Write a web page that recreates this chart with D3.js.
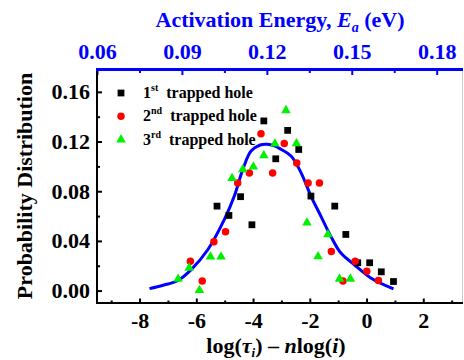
<html>
<head>
<script src="https://d3js.org/d3.v7.min.js"></script>
<style>
  * { margin: 0; padding: 0; }
  body { background: #fff; }
  text { font-family: 'Liberation Serif', 'Times New Roman', serif; font-weight: bold; }
</style>
</head>
<body>
<div id="chart"></div>
<script>
// 1st trapped hole (black squares)
var hole1X = [-5.27, -4.85, -4.44, -4.04, -3.62, -3.20, -2.78, -2.39, -1.96, -1.12, -0.73, -0.31, 0.11, 0.52, 0.95];
var hole1Y = [0.068, 0.0605, 0.0756, 0.053, 0.1366, 0.1061, 0.129, 0.1136, 0.0761, 0.068, 0.0452, 0.0224, 0.0224, 0.0151, 0.0073];
// 2nd trapped hole (red circles)
var hole2X = [-6.21, -5.79, -5.38, -4.97, -4.54, -4.13, -3.72, -3.31, -2.90, -2.46, -2.06, -1.66, -1.24, -0.83, -0.40, 0.01, 0.42];
var hole2Y = [0.0236, 0.0077, 0.0393, 0.0474, 0.0866, 0.0947, 0.1263, 0.0947, 0.1185, 0.1027, 0.0866, 0.0866, 0.0315, 0.0077, 0.0236, 0.0156, 0.0081];
// 3rd trapped hole (green triangles)
var hole3X = [-6.64, -6.25, -5.89, -5.50, -5.13, -4.74, -4.36, -3.99, -3.62, -3.23, -2.84, -2.47, -2.10, -1.71, -1.36, -0.95, -0.57];
var hole3Y = [0.0093, 0.0183, 0.0002, 0.0272, 0.0272, 0.0904, 0.0976, 0.0997, 0.1087, 0.1182, 0.1451, 0.1184, 0.0546, 0.0274, 0.0452, 0.0094, 0.0094];
// fitted distribution (blue line)
var fitX = [-7.65, -7.17, -6.65, -6.18, -5.59, -5.01, -4.66, -4.36, -4.07, -3.75, -3.50, -3.25, -3.02, -2.66, -2.31, -1.96, -1.61, -1.26, -0.91, -0.44, 0.15, 0.95];
var fitY = [0.0016, 0.0043, 0.0081, 0.0169, 0.0331, 0.0573, 0.0761, 0.0976, 0.1124, 0.1172, 0.1178, 0.1165, 0.1138, 0.1084, 0.095, 0.0761, 0.06, 0.0438, 0.0304, 0.021, 0.0102, 0.0014];

var xMajor = [-8, -6, -4, -2, 0, 2];
var xMinor = [-9, -7, -5, -3, -1, 1, 3];
var yMajor = [0, 0.04, 0.08, 0.12, 0.16];
var yMinor = [0.02, 0.06, 0.10, 0.14];
var eMajor = [0.06, 0.09, 0.12, 0.15, 0.18];
var eMinor = [0.075, 0.105, 0.135, 0.165];

var legendNames = ['1', '2', '3'];
var legendSup = ['st', 'nd', 'rd'];

var width = 464, height = 360;
var mLeft = 97, mRight = 463, mTop = 69.5, mBottom = 303;
var blue = '#0000ff';

var svg = d3.select('#chart').append('svg')
  .attr('width', width)
  .attr('height', height);

var x = d3.scaleLinear().domain([-9.5, 3.4]).range([mLeft, mRight]);
var y = d3.scaleLinear().domain([-0.01, 0.178]).range([mBottom, mTop]);
var xTop = d3.scaleLinear().domain([0.06, 0.1893]).range([mLeft, mRight]);

// axes
svg.append('g').attr('transform', 'translate(0,' + mBottom + ')')
  .call(d3.axisBottom(x).tickValues(xMajor).tickSize(-4.5).tickPadding(9).tickFormat(function (d) { return String(d); }));
svg.append('g').attr('transform', 'translate(0,' + mBottom + ')')
  .call(d3.axisBottom(x).tickValues(xMinor).tickSize(-2.5).tickFormat(''));

svg.append('g').attr('transform', 'translate(' + mLeft + ',0)')
  .call(d3.axisLeft(y).tickValues(yMajor).tickSize(-5).tickPadding(7).tickFormat(d3.format('.2f')));
svg.append('g').attr('transform', 'translate(' + mLeft + ',0)')
  .call(d3.axisLeft(y).tickValues(yMinor).tickSize(-3).tickFormat(''));

svg.append('g').attr('class', 'top').attr('transform', 'translate(0,' + mTop + ')')
  .call(d3.axisTop(xTop).tickValues(eMajor).tickSize(-5.5).tickPadding(11).tickFormat(d3.format('.2f')));
svg.append('g').attr('class', 'top').attr('transform', 'translate(0,' + mTop + ')')
  .call(d3.axisTop(xTop).tickValues(eMinor).tickSize(-3.5).tickFormat(''));

svg.selectAll('.domain').remove();
svg.selectAll('.tick line').attr('stroke', '#000').attr('stroke-width', 2);
svg.selectAll('.top .tick line').attr('stroke', blue);
svg.selectAll('.tick text').attr('font-size', 22).attr('fill', '#000');
svg.selectAll('.top .tick text').attr('fill', blue);

// frame
svg.append('line').attr('x1', mRight - 0.5).attr('x2', mRight - 0.5).attr('y1', mTop).attr('y2', mBottom)
  .attr('stroke', '#ccc').attr('stroke-width', 1);
svg.append('line').attr('x1', mLeft).attr('x2', mLeft).attr('y1', mTop).attr('y2', mBottom + 1)
  .attr('stroke', '#000').attr('stroke-width', 2);
svg.append('line').attr('x1', mLeft - 1).attr('x2', mRight).attr('y1', mBottom).attr('y2', mBottom)
  .attr('stroke', '#000').attr('stroke-width', 2);
svg.append('line').attr('x1', mLeft - 1).attr('x2', mRight).attr('y1', mTop).attr('y2', mTop)
  .attr('stroke', blue).attr('stroke-width', 3);

// fitted curve
var line = d3.line()
  .x(function (d) { return x(d[0]); })
  .y(function (d) { return y(d[1]); })
  .curve(d3.curveCatmullRom);
svg.append('path')
  .datum(d3.zip(fitX, fitY))
  .attr('d', line)
  .attr('fill', 'none')
  .attr('stroke', blue)
  .attr('stroke-width', 3);

// markers
var series = [
  { xs: hole1X, ys: hole1Y, sym: d3.symbolSquare, size: 46, color: '#000' },
  { xs: hole2X, ys: hole2Y, sym: d3.symbolCircle, size: 44, color: '#ff0000' },
  { xs: hole3X, ys: hole3Y, sym: d3.symbolTriangle, size: 40, color: '#00f000' }
];
series.forEach(function (s) {
  svg.append('g').selectAll('path')
    .data(d3.zip(s.xs, s.ys))
    .enter().append('path')
    .attr('transform', function (d) { return 'translate(' + x(d[0]) + ',' + y(d[1]) + ')'; })
    .attr('d', d3.symbol().type(s.sym).size(s.size))
    .attr('fill', s.color);
});

// legend
series.forEach(function (s, i) {
  var ly = 93 + i * 23.3;
  svg.append('path')
    .attr('transform', 'translate(121,' + ly + ')')
    .attr('d', d3.symbol().type(s.sym).size(s.size))
    .attr('fill', s.color);
  var t = svg.append('text').attr('x', 143).attr('y', ly + 5).attr('font-size', 16);
  t.append('tspan').text(legendNames[i]);
  t.append('tspan').attr('font-size', 10).attr('dy', -7).text(legendSup[i]);
  t.append('tspan').attr('dy', 7).attr('dx', 8).text('trapped hole');
});

// titles
var title = svg.append('text')
  .attr('x', 280).attr('y', 27)
  .attr('text-anchor', 'middle')
  .attr('font-size', 22)
  .attr('fill', blue);
title.append('tspan').text('Activation Energy, ');
title.append('tspan').attr('font-style', 'italic').text('E');
title.append('tspan').attr('font-style', 'italic').attr('font-size', 14).attr('dy', 5).text('a');
title.append('tspan').attr('dy', -5).text(' (eV)');

svg.append('text')
  .attr('transform', 'translate(32,186) rotate(-90)')
  .attr('text-anchor', 'middle')
  .attr('font-size', 22)
  .text('Probability Distribution');

var xl = svg.append('text')
  .attr('x', 276).attr('y', 353)
  .attr('text-anchor', 'middle')
  .attr('font-size', 22);
xl.append('tspan').text('log(');
xl.append('tspan').attr('font-style', 'italic').text('τ');
xl.append('tspan').attr('font-style', 'italic').attr('font-size', 13).attr('dy', 4).text('i');
xl.append('tspan').attr('dy', -4).text(') \u2013 ');
xl.append('tspan').attr('font-style', 'italic').text('n');
xl.append('tspan').text('log(');
xl.append('tspan').attr('font-style', 'italic').text('i');
xl.append('tspan').text(')');
</script>
</body>
</html>
